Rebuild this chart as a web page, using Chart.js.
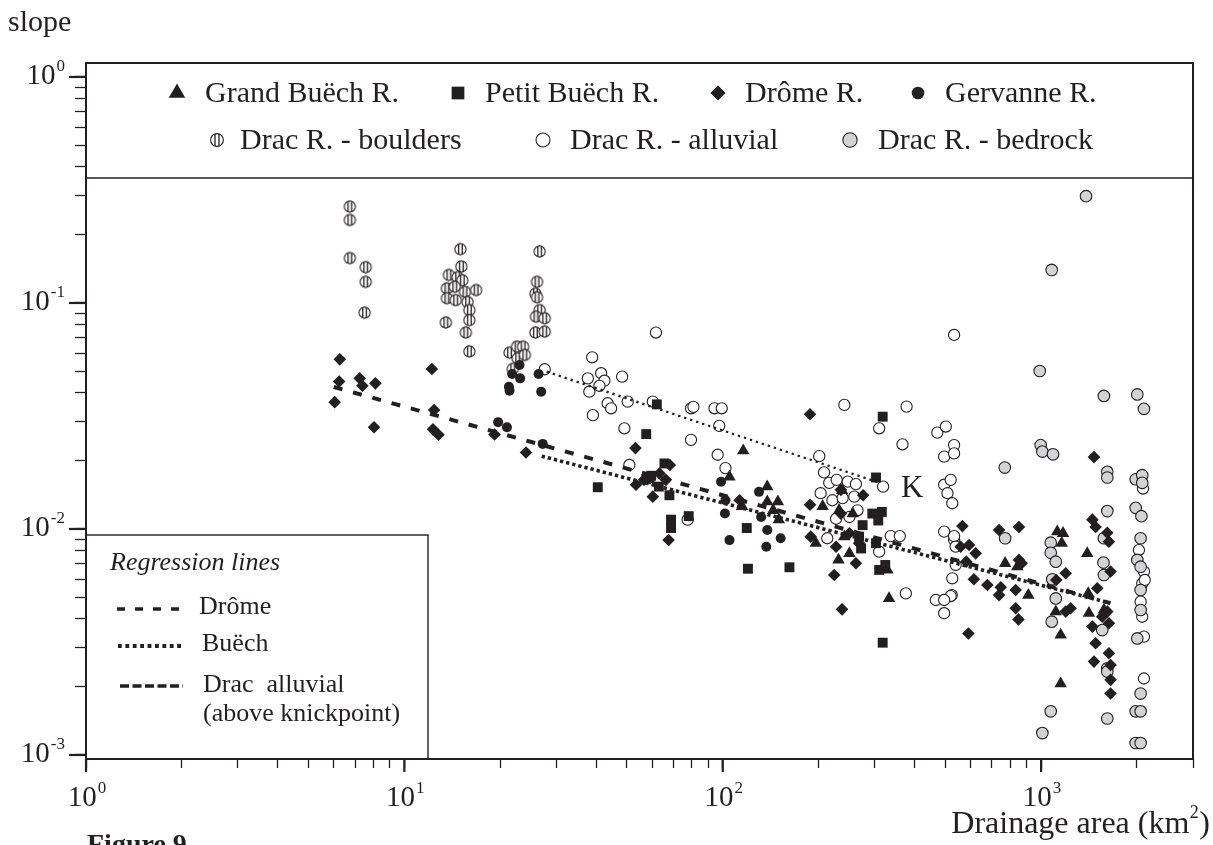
<!DOCTYPE html>
<html><head><meta charset="utf-8">
<script src="https://cdn.jsdelivr.net/npm/chart.js@4.4.1/dist/chart.umd.min.js"></script>
<style>html,body{margin:0;padding:0;background:#fff;}#wrap{width:1213px;height:845px;}</style>
</head><body><div id="wrap"><canvas id="c" width="1213" height="845"></canvas></div>
<script>
// ---------------- data ----------------
const grandBuechX = [116,105,138,138,149,144,150,115,206,237,232,196,231,250,329,333,241,256,1124,1172,1161,1396,771,842,912,1112,1152,1413,1152,1406,1575];
const grandBuechY = [0.0222,0.0170,0.0154,0.0132,0.0132,0.0121,0.0110,0.0126,0.0126,0.0148,0.0121,0.00865,0.0073,0.0078,0.00659,0.00493,0.00925,0.0117,0.00973,0.00957,0.00865,0.0078,0.00705,0.00681,0.0051,0.00431,0.0034,0.00424,0.00207,0.00519,0.00438];

const petitBuechX = [62.1,57.5,40.5,65.6,58.9,68,63,68.8,68.8,78.2,119,120,162,318,303,295,316,308,275,272,303,310,324,59.6,57.5,318,268];
const petitBuechY = [0.0356,0.0263,0.0153,0.0195,0.0168,0.0141,0.0154,0.011,0.0101,0.0114,0.0101,0.00667,0.00677,0.0314,0.0169,0.0117,0.0119,0.0109,0.0104,0.0082,0.00865,0.00659,0.00693,0.0172,0.0166,0.00314,0.00925];

const dromeX = [6.27,6.24,6.04,7.24,7.38,8.11,8.03,12.2,12.4,12.3,12.8,19.2,24.1,53.2,53.4,
  188,60.3,67.6,113,188,189,224,237,262,276,235,68.2,63.3,66.3,56.6,235,250,268,227,
  566,559,594,623,582,615,678,738,852,738,747,852,869,832,832,849,591,1116,1195,1238,1195,1449,1483,1614,1633,1501,1653,1449,1483,1633,1466,1653,1653,1653,1614,1633,1556,1466];
const dromeY = [0.0563,0.0449,0.0364,0.0464,0.043,0.0441,0.0282,0.051,0.0336,0.0276,0.0261,0.0262,0.0218,0.0228,0.0157,
  0.0322,0.0139,0.00894,0.0134,0.0128,0.00925,0.00626,0.00441,0.00705,0.0141,0.0149,0.0192,0.0176,0.0165,0.0165,0.0117,0.00957,0.00865,0.00835,
  0.0103,0.00835,0.0085,0.0078,0.00717,0.00599,0.00565,0.0099,0.0102,0.0051,0.00552,0.0073,0.00705,0.00537,0.00446,0.00398,0.00345,0.00595,0.00637,0.00446,0.00431,0.011,0.0102,0.00963,0.00879,0.00547,0.00648,0.0037,0.00312,0.00282,0.00259,0.0025,0.00215,0.00187,0.00431,0.00383,0.00409,0.0208];

const gervanneX = [21.8,23.1,21.3,21.4,23.0,26.4,26.9,19.7,21.0,27.2,98.8,102,101.6,105,130,132,138,152,137];
const gervanneY = [0.0485,0.0464,0.0426,0.0409,0.0532,0.0485,0.0405,0.0297,0.0282,0.0238,0.0162,0.0134,0.0117,0.00893,0.0146,0.0113,0.0099,0.0091,0.00835];

const boulderX = [6.74,6.74,6.74,7.56,7.56,7.5,15.0,15.1,13.8,14.7,15.2,13.6,14.4,15.5,16.8,13.6,14.5,15.8,16.0,16.0,13.5,15.6,16.0,26.6,26.1,25.8,26.1,26.6,25.9,27.6,25.8,27.6,21.4,22.6,23.6,22.7,23.9,21.9];
const boulderY = [0.267,0.233,0.158,0.144,0.124,0.0906,0.173,0.145,0.133,0.130,0.126,0.116,0.118,0.112,0.114,0.105,0.103,0.101,0.093,0.084,0.082,0.074,0.061,0.169,0.124,0.110,0.106,0.093,0.087,0.0856,0.074,0.0747,0.0603,0.0641,0.0641,0.0569,0.0589,0.0511];

const alluvialX = [27.6,38.9,37.7,41.5,42.5,48.3,41,38.1,43.5,44.6,50.3,39.1,49.1,50.9,
  61.7,60.3,79.5,80.9,94.2,99.3,97.5,79.5,96.4,102,77.6,201,208,216,228,247,262,203,221,238,259,265,227,250,213,241,310,378,367,319,337,360,310,376,467,524,496,496,533,472,502,533,496,533,496,520,508,526,526,539,533,
  533,539,520,496,2029,2104,2078,2054,2078,2104,2104,2116,2090];
const alluvialY = [0.0509,0.0575,0.0464,0.0489,0.0453,0.0472,0.043,0.0405,0.036,0.0342,0.0366,0.0319,0.0279,0.0192,
  0.074,0.0366,0.0342,0.0347,0.0342,0.0342,0.0286,0.0248,0.0213,0.0186,0.011,0.021,0.0178,0.016,0.0165,0.0162,0.0158,0.0144,0.0134,0.0137,0.0139,0.0121,0.0111,0.0113,0.0091,0.0354,0.0279,0.0348,0.0237,0.0154,0.0093,0.0093,0.00794,0.00519,0.00485,0.0051,0.00424,0.00973,0.0722,0.0267,0.0284,0.0235,0.0209,0.0216,0.0157,0.0165,0.0144,0.013,0.00605,0.00693,0.00894,
  0.0093,0.00835,0.00505,0.00485,0.00807,0.00648,0.00575,0.00477,0.00409,0.00334,0.00218,0.00595,0.0151];

const bedrockX = [1384,1080,990,1575,2005,2104,997,1009,1090,769,1614,1614,1982,2078,2078,1614,1982,2066,
  771,1072,1072,1112,1084,1112,1080,1072,1009,1575,1570,1575,1556,1614,1614,1614,2054,2005,2054,2054,2054,2005,2054,1982,2054,1982,2054];
const bedrockY = [0.297,0.14,0.05,0.0388,0.0394,0.034,0.0235,0.022,0.0214,0.0187,0.0179,0.0169,0.0166,0.0173,0.016,0.012,0.0124,0.0114,
  0.0091,0.0087,0.00785,0.00717,0.00599,0.00493,0.00389,0.00156,0.00125,0.0091,0.0071,0.00626,0.00357,0.00242,0.00234,0.00145,0.0091,0.0073,0.00681,0.00537,0.00438,0.00328,0.00187,0.00156,0.00156,0.00113,0.00113];

// regression lines (end points)
const dromeLineX = [6.0, 1650];
const dromeLineY = [0.0425, 0.0047];
const buechLineX = [27, 1650];
const buechLineY = [0.021, 0.0047];
const dracLineX = [28, 315];
const dracLineY = [0.0497, 0.0159];

// axis ticks
const xMajorTicks = [1, 10, 100, 1000];
const xMajorExp = ['0', '1', '2', '3'];
const xMinorTicks = [2,3,4,5,6,7,8,9,20,30,40,50,60,70,80,90,200,300,400,500,600,700,800,900,2000,3000];
const yMajorTicks = [1, 0.1, 0.01, 0.001];
const yMajorExp = ['0', '-1', '-2', '-3'];
const yMinorTicks = [0.9,0.8,0.7,0.6,0.5,0.4,0.3,0.2,0.09,0.08,0.07,0.06,0.05,0.04,0.03,0.02,0.009,0.008,0.007,0.006,0.005,0.004,0.003,0.002];

// ---------------- styling ----------------
const INK = '#231f20';
const GREY = '#d1d3d4';
const SERIF = '"Liberation Serif", "Times New Roman", serif';

function pts(xs, ys) { return xs.map((x, i) => ({x: x, y: ys[i]})); }

function makeBoulder(r, off) {
  const s = Math.ceil(r * 2 + 3);
  const cv = document.createElement('canvas');
  cv.width = s; cv.height = s;
  const g = cv.getContext('2d');
  const c = s / 2;
  g.beginPath(); g.arc(c, c, r, 0, Math.PI * 2); g.fillStyle = '#fff'; g.fill();
  g.save(); g.clip();
  g.strokeStyle = INK; g.lineWidth = 1.3;
  [-off, off].forEach(d => { g.beginPath(); g.moveTo(c + d, 0); g.lineTo(c + d, s); g.stroke(); });
  g.restore();
  g.beginPath(); g.arc(c, c, r, 0, Math.PI * 2); g.strokeStyle = INK; g.lineWidth = 1.1; g.stroke();
  return cv;
}
const boulderImg = makeBoulder(5.6, 1.8);
const boulderLegendImg = makeBoulder(6.4, 2.0);

const series = {
  grand:   {label: 'Grand Buëch R.', pointStyle: 'triangle', radius: 7.2, legR: 9.5, bg: INK, bd: INK, bw: 0},
  petit:   {label: 'Petit Buëch R.', pointStyle: 'rect', radius: 7, legR: 9, bg: INK, bd: INK, bw: 0},
  drome:   {label: 'Drôme R.', pointStyle: 'rectRot', radius: 6.3, legR: 7.6, bg: INK, bd: INK, bw: 0},
  gerv:    {label: 'Gervanne R.', pointStyle: 'circle', radius: 5, legR: 6.3, bg: INK, bd: INK, bw: 0},
  boulder: {label: 'Drac R. - boulders', pointStyle: boulderImg, legStyle: boulderLegendImg, radius: 6, legR: 6.5, bg: '#fff', bd: INK, bw: 1},
  alluv:   {label: 'Drac R. - alluvial', pointStyle: 'circle', radius: 5.6, legR: 7, bg: '#fff', bd: INK, bw: 1.1},
  bed:     {label: 'Drac R. - bedrock', pointStyle: 'circle', radius: 5.8, legR: 7.2, bg: GREY, bd: INK, bw: 1.1}
};

function ds(key, xs, ys, order) {
  const s = series[key];
  return {type: 'scatter', label: s.label, data: pts(xs, ys), order: order,
    pointStyle: s.pointStyle, pointRadius: s.radius, pointHoverRadius: s.radius,
    backgroundColor: s.bg, borderColor: s.bd, borderWidth: s.bw};
}
function lineDs(label, xs, ys, width, dash, order) {
  return {type: 'line', label: label, data: pts(xs, ys), order: order, showLine: true,
    borderColor: INK, borderWidth: width, borderDash: dash, borderCapStyle: 'butt',
    pointRadius: 0, fill: false, tension: 0};
}

function supText(ctx, base, exp, x, y, align, baseSize, expSize) {
  ctx.font = baseSize + 'px ' + SERIF;
  const wb = ctx.measureText(base).width;
  ctx.font = expSize + 'px ' + SERIF;
  const we = ctx.measureText(exp).width;
  const total = wb + we + 1;
  let x0 = x;
  if (align === 'center') x0 = x - total / 2;
  else if (align === 'right') x0 = x - total;
  ctx.textAlign = 'left'; ctx.textBaseline = 'alphabetic';
  ctx.font = baseSize + 'px ' + SERIF;
  ctx.fillText(base, x0, y);
  ctx.font = expSize + 'px ' + SERIF;
  ctx.fillText(exp, x0 + wb + 1, y - baseSize * 0.45);
}

const overlay = {
  id: 'overlay',
  afterDraw(chart) {
    const ctx = chart.ctx;
    const a = chart.chartArea;
    const xs = chart.scales.x, ys = chart.scales.y;
    ctx.save();
    ctx.fillStyle = INK; ctx.strokeStyle = INK;

    // major tick extensions
    ctx.lineWidth = 2.2;
    yMajorTicks.forEach(v => { const py = ys.getPixelForValue(v); ctx.beginPath(); ctx.moveTo(a.left - 17, py); ctx.lineTo(a.left, py); ctx.stroke(); });
    xMajorTicks.forEach(v => { const px = xs.getPixelForValue(v); ctx.beginPath(); ctx.moveTo(px, a.bottom); ctx.lineTo(px, a.bottom + 13); ctx.stroke(); });

    // top legend box
    const legBottom = 178;
    ctx.fillStyle = '#fff';
    ctx.fillRect(a.left, a.top, a.right - a.left, legBottom - a.top);
    ctx.lineWidth = 1.4; ctx.strokeStyle = INK;
    ctx.beginPath(); ctx.moveTo(a.left, legBottom); ctx.lineTo(a.right, legBottom); ctx.stroke();

    const items = [
      ['grand', 177, 93, 205], ['petit', 458, 93, 485], ['drome', 718, 93, 745], ['gerv', 918, 93, 945],
      ['boulder', 217, 140, 240], ['alluv', 543, 140, 570], ['bed', 850, 140, 878]
    ];
    items.forEach(it => {
      const s = series[it[0]];
      ctx.fillStyle = s.bg; ctx.strokeStyle = s.bd; ctx.lineWidth = s.bw;
      Chart.helpers.drawPoint(ctx, {pointStyle: s.legStyle || s.pointStyle, radius: s.legR, rotation: 0, borderWidth: s.bw}, it[1], it[2]);
      ctx.fillStyle = INK;
      ctx.font = '30px ' + SERIF; ctx.textAlign = 'left'; ctx.textBaseline = 'middle';
      ctx.fillText(s.label, it[3], it[2] + 1);
    });

    // regression legend box
    const bx = a.left, by = 535, bw = 428 - a.left, bh = a.bottom - by;
    ctx.fillStyle = '#fff'; ctx.fillRect(bx, by, bw, bh);
    ctx.lineWidth = 1.4; ctx.strokeStyle = INK; ctx.strokeRect(bx, by, bw, bh);
    ctx.fillStyle = INK; ctx.textBaseline = 'middle'; ctx.textAlign = 'left';
    ctx.font = 'italic 26px ' + SERIF;
    ctx.fillText('Regression lines', 110, 563);
    ctx.font = '26px ' + SERIF;
    ctx.fillText('Drôme', 199, 607);
    ctx.fillText('Buëch', 202, 644);
    ctx.fillText('Drac  alluvial', 203, 685);
    ctx.fillText('(above knickpoint)', 203, 714);
    ctx.lineCap = 'butt';
    ctx.lineWidth = 3.6; ctx.setLineDash([8, 10]);
    ctx.beginPath(); ctx.moveTo(117, 609); ctx.lineTo(181, 609); ctx.stroke();
    ctx.lineWidth = 3.8; ctx.setLineDash([3.8, 3.6]);
    ctx.beginPath(); ctx.moveTo(118, 646); ctx.lineTo(181, 646); ctx.stroke();
    ctx.lineWidth = 3.6; ctx.setLineDash([9, 3.5]);
    ctx.beginPath(); ctx.moveTo(120, 686); ctx.lineTo(183, 686); ctx.stroke();
    ctx.setLineDash([]);

    // frame
    ctx.lineWidth = 2; ctx.strokeStyle = INK;
    ctx.strokeRect(a.left, a.top, a.right - a.left, a.bottom - a.top);

    // tick labels
    ctx.fillStyle = INK;
    yMajorTicks.forEach((v, i) => { const py = ys.getPixelForValue(v); supText(ctx, '10', yMajorExp[i], 65, py + 7, 'right', 29, 17); });
    xMajorTicks.forEach((v, i) => { const px = xs.getPixelForValue(v); supText(ctx, '10', xMajorExp[i], px + 1, a.bottom + 47, 'center', 29, 17); });

    // axis titles and annotations
    ctx.textAlign = 'left'; ctx.textBaseline = 'alphabetic';
    ctx.font = '30px ' + SERIF;
    ctx.fillText('slope', 8, 31);
    // x title with superscript
    ctx.font = '32px ' + SERIF;
    const t1 = 'Drainage area (km', t3 = ')';
    const w1 = ctx.measureText(t1).width, w3 = ctx.measureText(t3).width;
    ctx.font = '18px ' + SERIF; const w2 = ctx.measureText('2').width;
    const xEnd = 1210, x0 = xEnd - (w1 + w2 + w3 + 1);
    ctx.font = '32px ' + SERIF; ctx.fillText(t1, x0, 833);
    ctx.font = '18px ' + SERIF; ctx.fillText('2', x0 + w1 + 0.5, 818);
    ctx.font = '32px ' + SERIF; ctx.fillText(t3, x0 + w1 + w2 + 1, 833);
    // K
    ctx.font = '31px ' + SERIF; ctx.textBaseline = 'middle';
    ctx.fillText('K', 901, 489);
    // Figure label
    ctx.font = 'bold 28px ' + SERIF; ctx.textBaseline = 'alphabetic';
    ctx.fillText('Figure 9', 87, 853);
    ctx.restore();
  }
};

function tickList(majors, minors) {
  return majors.concat(minors).sort((p, q) => p - q).map(v => ({value: v, major: majors.indexOf(v) >= 0}));
}

new Chart(document.getElementById('c'), {
  type: 'scatter',
  data: {
    datasets: [
      lineDs('Drôme', dromeLineX, dromeLineY, 4, [9, 11], 0),
      lineDs('Buëch', buechLineX, buechLineY, 3.6, [3.3, 3], 0),
      lineDs('Drac alluvial', dracLineX, dracLineY, 2.3, [2.3, 4], 0),
      ds('gerv', gervanneX, gervanneY, 1),
      ds('drome', dromeX, dromeY, 2),
      ds('petit', petitBuechX, petitBuechY, 3),
      ds('grand', grandBuechX, grandBuechY, 4),
      ds('bed', bedrockX, bedrockY, 5),
      ds('alluv', alluvialX, alluvialY, 6),
      ds('boulder', boulderX, boulderY, 7)
    ]
  },
  options: {
    responsive: false, animation: false, devicePixelRatio: 1,
    layout: {padding: {left: 72, top: 63, right: 20, bottom: 74}},
    plugins: {legend: {display: false}, tooltip: {enabled: false}},
    scales: {
      x: {type: 'logarithmic', min: 1, max: 3000,
        afterBuildTicks: s => { s.ticks = tickList(xMajorTicks, xMinorTicks); },
        afterFit: s => { s.height = 12; },
        ticks: {display: false},
        grid: {display: true, drawOnChartArea: false, drawTicks: true, tickLength: 9, tickColor: INK, tickWidth: 1.3},
        border: {display: false}},
      y: {type: 'logarithmic', min: 0.00096, max: 1.153,
        afterBuildTicks: s => { s.ticks = tickList(yMajorTicks, yMinorTicks); },
        afterFit: s => { s.width = 14; },
        ticks: {display: false},
        grid: {display: true, drawOnChartArea: false, drawTicks: true, tickLength: 11, tickColor: INK, tickWidth: 1.3},
        border: {display: false}}
    }
  },
  plugins: [overlay]
});
</script>
</body></html>
